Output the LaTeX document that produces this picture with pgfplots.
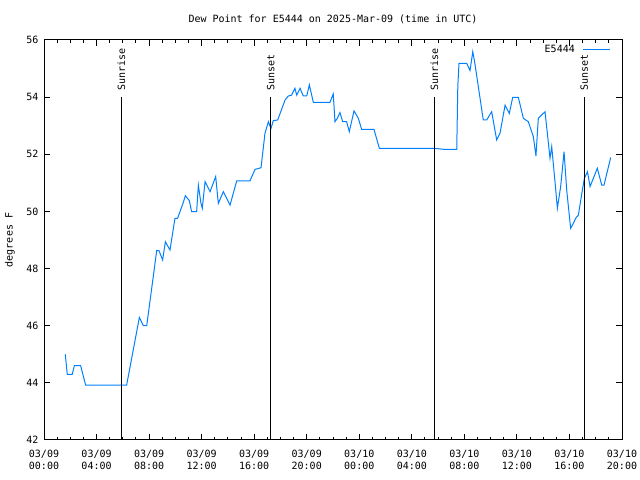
\documentclass[border=0pt]{standalone}
\usepackage{pgfplots}
\pgfplotsset{compat=1.18}
\usepackage{fontspec}
\setmainfont{DejaVu Sans Mono}
\definecolor{lineblue}{RGB}{0,128,255}
\newcommand{\gfont}{\fontsize{10bp}{12bp}\selectfont}
\begin{document}
\begin{tikzpicture}
\useasboundingbox (-44bp,-40bp) rectangle (596bp,440bp);
\begin{axis}[
  scale only axis,
  width=578bp, height=400bp,
  xmin=0, xmax=44, ymin=42, ymax=56,
  axis line style={line width=1bp},
  every tick/.style={black, line width=1bp},
  major tick length=6bp, minor tick length=3bp,
  tick align=inside,
  xtick={0,4,...,44},
  minor x tick num=3,
  xticklabels={03/09\\00:00,03/09\\04:00,03/09\\08:00,03/09\\12:00,03/09\\16:00,03/09\\20:00,03/10\\00:00,03/10\\04:00,03/10\\08:00,03/10\\12:00,03/10\\16:00,03/10\\20:00},
  xticklabel style={font=\gfont, align=center, yshift=-7bp},
  ytick={42,44,...,56},
  yticklabel style={font=\gfont, xshift=-2bp},
  /pgf/number format/assume math mode=true,
  ylabel={degrees F},
  every axis y label/.style={at={(axis description cs:0,0.5)}, xshift=-34bp, rotate=90, anchor=center, font=\gfont},
  title={Dew Point for E5444 on 2025-Mar-09 (time in UTC)},
  title style={at={(axis description cs:0.5,1)}, anchor=center, yshift=15bp, font=\gfont},
  legend plot pos=right,
  legend style={at={(1,1)}, anchor=north east, xshift=-8bp, yshift=-1bp, draw=none, fill=none, font=\gfont, column sep=6bp},
  legend image code/.code={\draw[#1] (0bp,0bp) -- (27bp,0bp);},
]
\addplot[lineblue, line width=1bp] coordinates {
(1.62,45.0) (1.77,44.3) (2.15,44.3) (2.31,44.6) (2.79,44.6) (3.17,43.92)
(6.29,43.92) (7.26,46.29) (7.56,46.0) (7.82,46.0) (8.58,48.63) (8.75,48.63)
(9.03,48.3) (9.24,48.94) (9.59,48.65) (9.97,49.76) (10.17,49.76) (10.6,50.31)
(10.76,50.55) (11.06,50.38) (11.24,49.99) (11.62,49.99) (11.75,50.92) (11.95,50.28)
(12.05,50.11) (12.26,51.04) (12.64,50.69) (13.07,51.22) (13.27,50.28) (13.65,50.69)
(14.16,50.22) (14.67,51.07) (15.68,51.07) (16.06,51.47) (16.52,51.53) (16.82,52.73)
(17.08,53.14) (17.28,52.91) (17.46,53.18) (17.79,53.2) (18.35,53.9) (18.6,54.04)
(18.85,54.07) (19.1,54.31) (19.24,54.07) (19.49,54.31) (19.74,54.04) (20.0,54.04)
(20.2,54.43) (20.5,53.82) (21.77,53.82) (22.02,54.11) (22.15,53.14) (22.33,53.26)
(22.53,53.46) (22.74,53.14) (23.04,53.14) (23.24,52.79) (23.6,53.52) (23.93,53.26)
(24.18,52.87) (25.12,52.87) (25.53,52.21) (29.64,52.21) (30.53,52.17) (31.42,52.17)
(31.5,54.37) (31.59,55.18) (32.18,55.18) (32.43,54.93) (32.64,55.59) (32.8,55.18)
(33.44,53.2) (33.7,53.2) (34.08,53.49) (34.46,52.5) (34.71,52.73) (35.1,53.72)
(35.42,53.43) (35.68,53.99) (36.11,53.99) (36.49,53.26) (36.87,53.14) (37.25,52.62)
(37.45,51.94) (37.63,53.26) (38.14,53.49) (38.52,51.86) (38.65,52.27) (38.98,50.63)
(39.08,50.11) (39.33,50.87) (39.59,52.09) (39.79,50.75) (40.09,49.41) (40.29,49.58)
(40.5,49.78) (40.68,49.87) (40.94,50.63) (41.14,51.16) (41.37,51.39) (41.57,50.87)
(42.12,51.51) (42.46,50.92) (42.63,50.92) (43.14,51.89)
};
\addlegendentry{E5444}
\addplot[black, line width=1bp, forget plot] coordinates {(5.885,42) (5.885,54)};
\addplot[black, line width=1bp, forget plot] coordinates {(17.26,42) (17.26,54)};
\addplot[black, line width=1bp, forget plot] coordinates {(29.71,42) (29.71,54)};
\addplot[black, line width=1bp, forget plot] coordinates {(41.13,42) (41.13,54)};
\node[rotate=90, anchor=west, font=\gfont, inner sep=0pt] at ([yshift=6bp]axis cs:5.885,54) {Sunrise};
\node[rotate=90, anchor=west, font=\gfont, inner sep=0pt] at ([yshift=6bp]axis cs:17.26,54) {Sunset};
\node[rotate=90, anchor=west, font=\gfont, inner sep=0pt] at ([yshift=6bp]axis cs:29.71,54) {Sunrise};
\node[rotate=90, anchor=west, font=\gfont, inner sep=0pt] at ([yshift=6bp]axis cs:41.13,54) {Sunset};
\end{axis}
\end{tikzpicture}
\end{document}
